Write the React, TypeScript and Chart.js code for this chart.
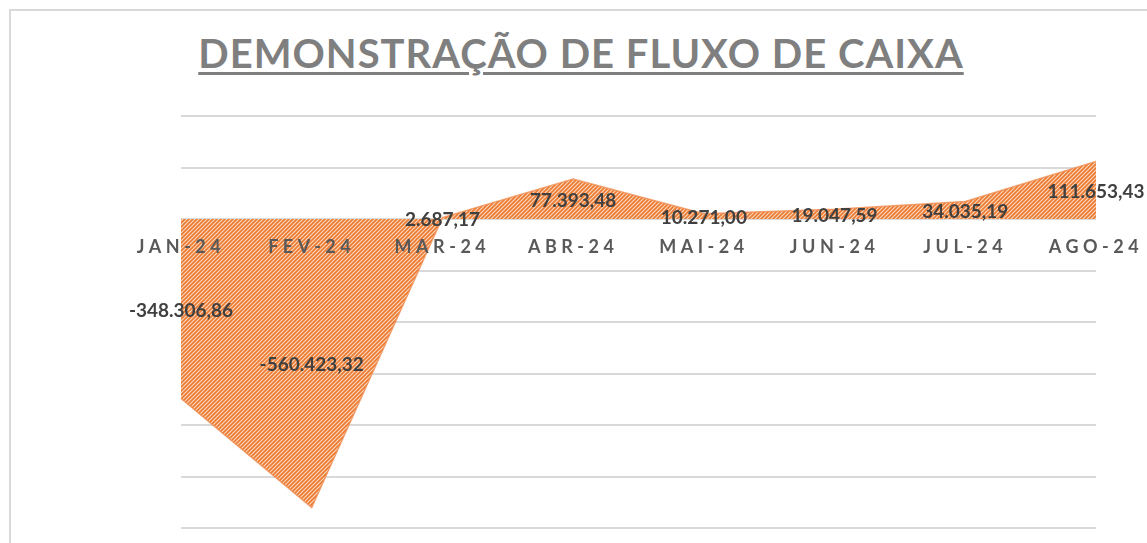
import React, { useEffect, useRef } from "react";
import { Chart, registerables } from "chart.js";

Chart.register(...registerables);

const categories = ["JAN-24", "FEV-24", "MAR-24", "ABR-24", "MAI-24", "JUN-24", "JUL-24", "AGO-24"];
const values = [-348306.86, -560423.32, 2687.17, 77393.48, 10271.0, 19047.59, 34035.19, 111653.43];
const yMin = -600000;
const yMax = 200000;
const yStep = 100000;

function fmtBR(v: number): string {
  const neg = v < 0;
  const abs = Math.abs(v);
  const [intPart, dec] = abs.toFixed(2).split(".");
  const withDots = intPart.replace(/\B(?=(\d{3})+(?!\d))/g, ".");
  return (neg ? "-" : "") + withDots + "," + dec;
}

function makeHatch(): CanvasPattern | string {
  const c = document.createElement("canvas");
  c.width = 4;
  c.height = 4;
  const g = c.getContext("2d");
  if (!g) return "#f4b183";
  g.fillStyle = "#fbd9c0";
  g.fillRect(0, 0, 4, 4);
  g.strokeStyle = "#ec7a30";
  g.lineWidth = 1.7;
  g.beginPath();
  g.moveTo(-1, 5);
  g.lineTo(5, -1);
  g.moveTo(-3, 3);
  g.lineTo(3, -3);
  g.moveTo(1, 7);
  g.lineTo(7, 1);
  g.stroke();
  return g.createPattern(c, "repeat") || "#f4b183";
}

const spacingPlugin = {
  id: "labelSpacing",
  afterDatasetsDraw(chart: any) {
    chart.ctx.letterSpacing = "4.5px";
  },
  afterDraw(chart: any) {
    chart.ctx.letterSpacing = "0px";
  },
};

const dataLabelPlugin = {
  id: "dataLabels",
  afterDraw(chart: any) {
    const ctx = chart.ctx;
    const meta = chart.getDatasetMeta(0);
    const y0 = chart.scales.y.getPixelForValue(0);
    ctx.save();
    ctx.letterSpacing = "0px";
    ctx.font = "bold 19px Lato";
    ctx.fillStyle = "#404040";
    ctx.textAlign = "center";
    ctx.textBaseline = "middle";
    meta.data.forEach((pt: any, i: number) => {
      ctx.fillText(fmtBR(values[i]), pt.x, (pt.y + y0) / 2 + 2);
    });
    ctx.restore();
  },
};

export default function App() {
  const canvasRef = useRef<HTMLCanvasElement | null>(null);

  useEffect(() => {
    if (!canvasRef.current) return;
    const chart = new Chart(canvasRef.current, {
      type: "line",
      data: {
        labels: categories,
        datasets: [
          {
            data: values,
            fill: "origin",
            backgroundColor: makeHatch() as any,
            borderColor: "rgba(240,140,80,0.8)",
            borderWidth: 1.5,
            pointRadius: 0,
            tension: 0,
          },
        ],
      },
      options: {
        animation: false,
        responsive: false,
        maintainAspectRatio: false,
        layout: { padding: { left: 181, right: 51, top: 116, bottom: 15 } },
        plugins: {
          legend: { display: false },
          title: { display: false },
          tooltip: { enabled: false },
        },
        scales: {
          x: {
            type: "category",
            offset: false,
            position: { y: 0 } as any,
            grid: { display: false },
            border: { display: false },
            ticks: {
              z: 1,
              autoSkip: false,
              maxRotation: 0,
              minRotation: 0,
              padding: 9,
              color: "#595959",
              font: { family: "Lato", size: 18, weight: "bold" },
            },
          },
          y: {
            type: "linear",
            min: yMin,
            max: yMax,
            ticks: { display: false, stepSize: yStep },
            grid: { color: "#d9d9d9", lineWidth: 2, drawTicks: false },
            border: { display: false },
          },
        },
      },
      plugins: [spacingPlugin, dataLabelPlugin],
    });
    return () => chart.destroy();
  }, []);

  return (
    <div
      style={{
        position: "fixed",
        left: 0,
        top: 0,
        width: 1147,
        height: 543,
        overflow: "hidden",
        background: "#ffffff",
      }}
    >
      <div
        style={{
          position: "absolute",
          left: 9,
          top: 9,
          width: 1300,
          height: 700,
          border: "2px solid #d9d9d9",
        }}
      />
      <div
        style={{
          position: "absolute",
          left: 0,
          top: 33,
          width: 1162,
          textAlign: "center",
          fontFamily: "Lato",
          fontWeight: 700,
          fontSize: 40,
          lineHeight: "40px",
          letterSpacing: "1px",
          color: "#7f7f7f",
          textDecoration: "underline",
          textDecorationThickness: "3px",
          textUnderlineOffset: "4px",
        }}
      >
        DEMONSTRAÇÃO DE FLUXO DE CAIXA
      </div>
      <canvas
        ref={canvasRef}
        width={1147}
        height={543}
        style={{ position: "absolute", left: 0, top: 0, width: 1147, height: 543 }}
      />
    </div>
  );
}
